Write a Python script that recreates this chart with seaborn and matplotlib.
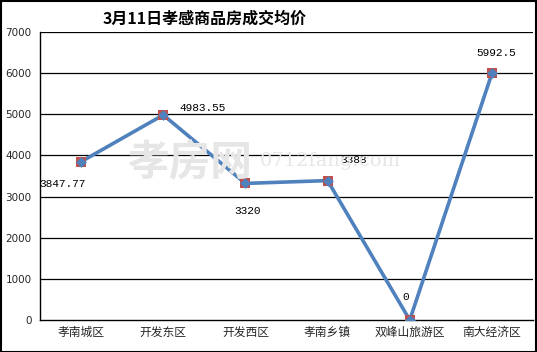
import matplotlib
matplotlib.use("Agg")
import matplotlib.pyplot as plt
import seaborn as sns
import pandas as pd
import numpy as np

categories = ["孝南城区", "开发东区", "开发西区", "孝南乡镇", "双峰山旅游区", "南大经济区"]
prices = [3847.77, 4983.55, 3320, 3388, 0, 5992.5]
value_labels = ["3847.77", "4983.55", "3320", "3388", "0", "5992.5"]
yticks = [0, 1000, 2000, 3000, 4000, 5000, 6000, 7000]
title = "3月11日孝感商品房成交均价"

sns.set_theme(style="white")
plt.rcParams['font.family'] = ['Noto Sans CJK SC', 'DejaVu Sans']

df = pd.DataFrame({"pos": np.arange(len(categories)), "price": prices, "cat": categories})

fig = plt.figure(figsize=(5.37, 3.52), dpi=100)
fig.patch.set_facecolor("white")
ax = fig.add_axes([40/537, 32/352, 493/537, 288/352])

for y in yticks[1:]:
    ax.axhline(y, color="black", lw=0.9, zorder=0)

# faint watermark
fig.text(190/537, 1 - 163/352, "孝房网", fontsize=30, color="#e6e6e6",
         ha="center", va="center", zorder=1, fontweight="bold")
fig.text(330/537, 1 - 161/352, "0712fang.com", fontsize=14, color="#e6e6e6",
         ha="center", va="center", zorder=1, family="DejaVu Serif")

sns.lineplot(data=df, x="pos", y="price", ax=ax, color="#4F81BD", lw=2.6, zorder=2)
sns.scatterplot(data=df, x="pos", y="price", ax=ax, marker="s", s=60, color="#C0504D",
                edgecolor="#C0504D", linewidth=0, zorder=3)
sns.scatterplot(data=df, x="pos", y="price", ax=ax, marker="D", s=30, color="#4F81BD",
                edgecolor="#4F81BD", linewidth=0, zorder=4)

# (dx, dy) in pixels, ha
offsets = [(-19, -22, "center"), (16, 7, "left"), (2, -28, "center"),
           (13, 21, "left"), (-4, 23, "center"), (4, 20, "center")]
for i, (v, lab) in enumerate(zip(prices, value_labels)):
    dx, dy, ha = offsets[i]
    ax.annotate(lab, (i, v), xytext=(dx, dy), textcoords="offset pixels",
                fontsize=8, family="Liberation Mono", ha=ha,
                va="center", color="black", zorder=5)

ax.set_xlim(-0.5, 5.5)
ax.set_ylim(0, 7000)
ax.set_yticks(yticks)
ax.set_yticklabels([str(t) for t in yticks], fontsize=7.5, family="DejaVu Sans")
ax.set_xticks(np.arange(-0.5, 6, 1.0))
ax.set_xticklabels([])
ax.set_xticks(np.arange(len(categories)), minor=True)
ax.set_xticklabels(categories, minor=True, fontsize=8.5)
ax.tick_params(axis="x", which="minor", length=0, pad=4)
ax.tick_params(axis="x", which="major", length=4, width=1, color="black", direction="out")
ax.tick_params(axis="y", length=3, width=1, color="black", direction="out", pad=3)
ax.set_xlabel("")
ax.set_ylabel("")
for s in ["top", "right"]:
    ax.spines[s].set_visible(False)
for s in ["left", "bottom"]:
    ax.spines[s].set_color("black")
    ax.spines[s].set_linewidth(1)

fig.text(205/537, 1 - 19/352, title, ha="center", va="center", fontsize=11.5,
         fontweight="bold", color="black")

border = plt.Rectangle((0.5/537, 0.5/352), 535.5/537, 350.5/352, transform=fig.transFigure,
                       fill=False, edgecolor="black", lw=1.5)
fig.patches.append(border)

fig.savefig("out.png", dpi=100, facecolor="white")
